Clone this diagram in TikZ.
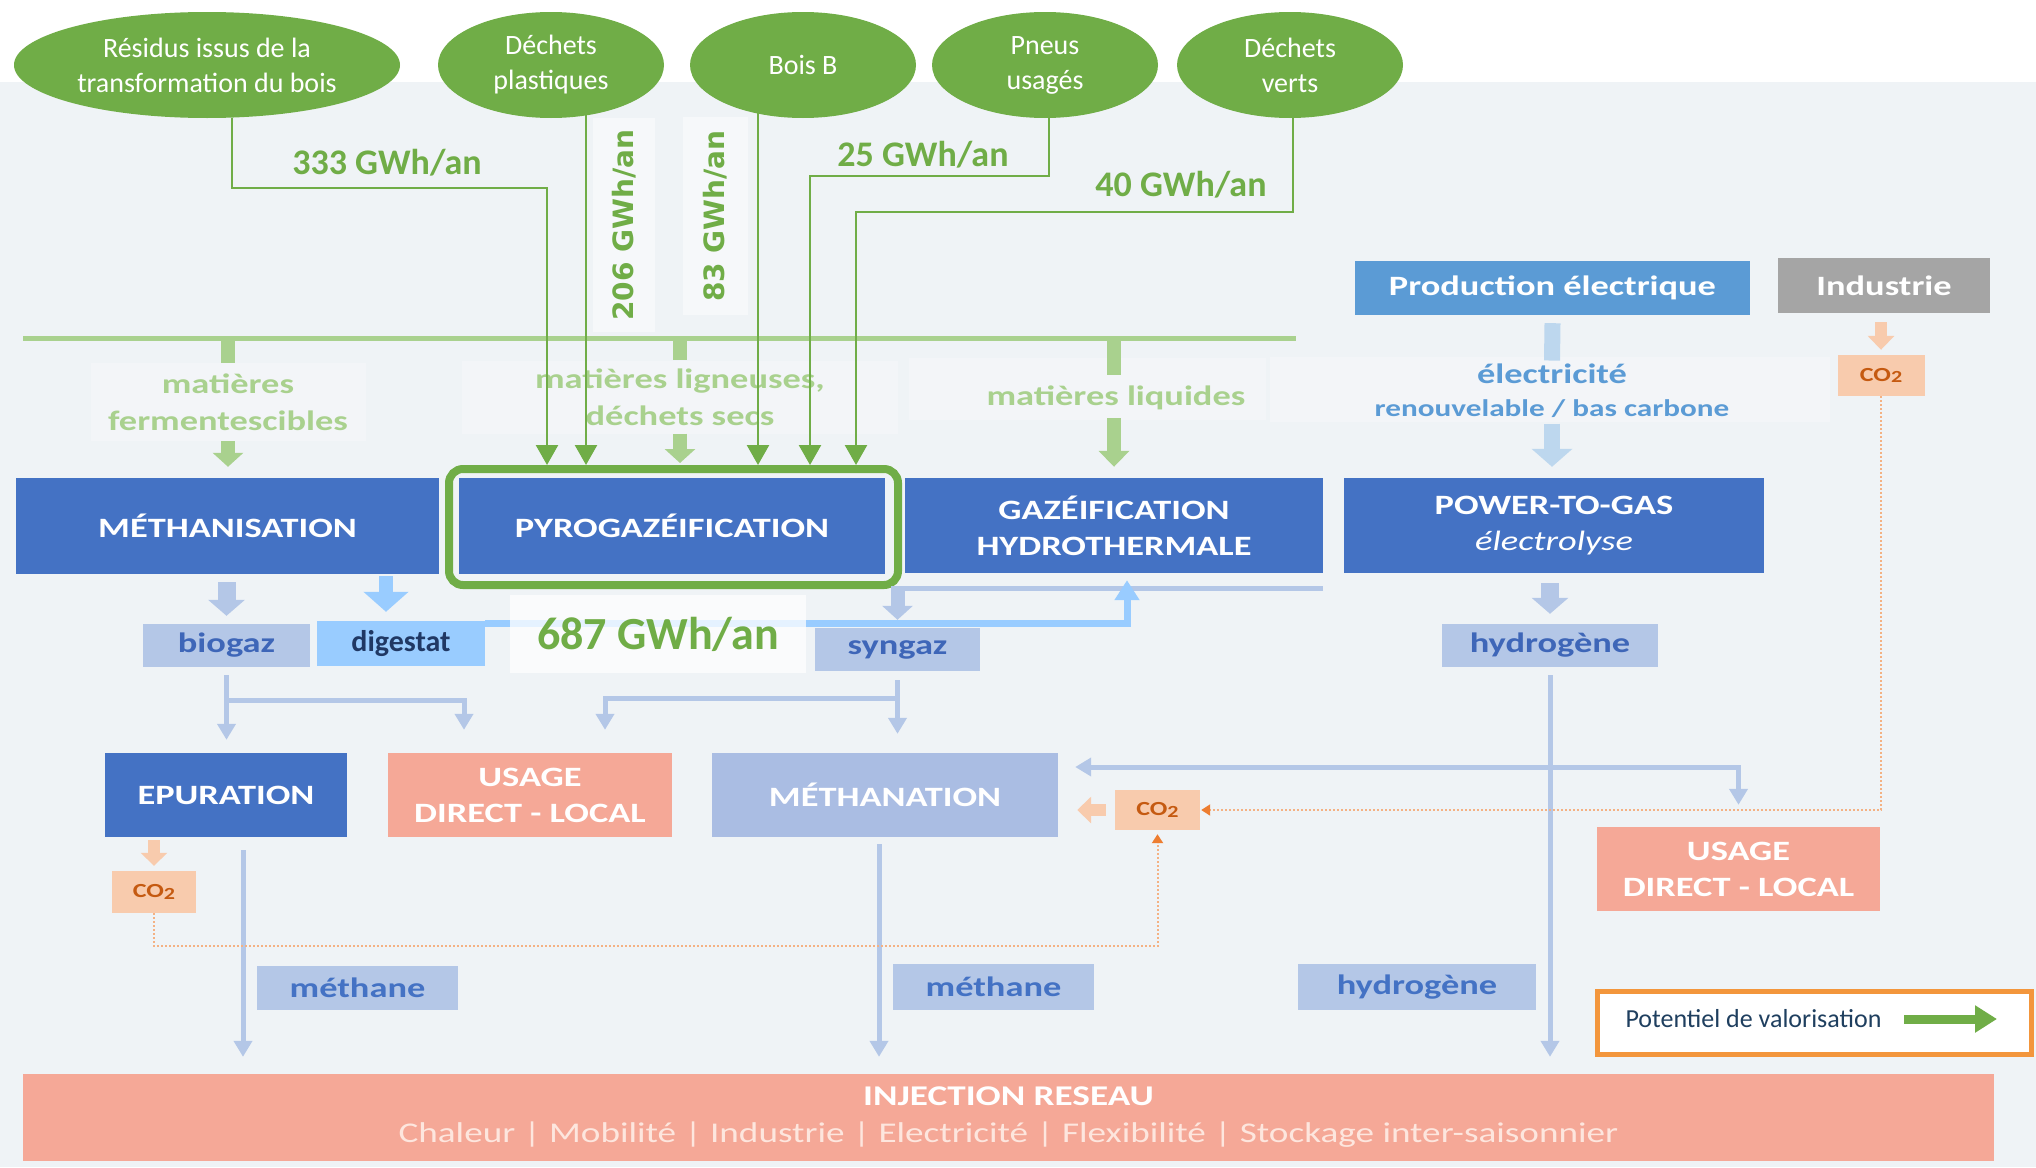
\documentclass[tikz,border=0pt]{standalone}
\usepackage{fontspec}
\setmainfont{Carlito}
\newfontfamily\wide[FakeStretch=1.3]{Carlito}
\newfontfamily\dejavu{DejaVu Sans}
\usepackage{tikz}
\usetikzlibrary{shapes.geometric, arrows.meta, positioning}
\definecolor{vert}{HTML}{70AD47}
\definecolor{vertpale}{HTML}{A9D18E}
\definecolor{bleu}{HTML}{4472C4}
\definecolor{bleuprod}{HTML}{5B9BD5}
\definecolor{bleupale}{HTML}{B4C7E7}
\definecolor{bleuciel}{HTML}{99CCFF}
\definecolor{bleuelec}{HTML}{BDD7EE}
\definecolor{bleumethan}{HTML}{AABDE3}
\definecolor{texteb}{HTML}{3E66B8}
\definecolor{marine}{HTML}{203864}
\definecolor{legtexte}{HTML}{1F3F5F}
\definecolor{saumon}{HTML}{F5A897}
\definecolor{rosepale}{HTML}{FDE6DE}
\definecolor{peche}{HTML}{F8CBAD}
\definecolor{orangefonce}{HTML}{C55A11}
\definecolor{orangevif}{HTML}{ED7D31}
\definecolor{orangeclair}{HTML}{F4B183}
\definecolor{legbord}{HTML}{F3963C}
\definecolor{fond}{HTML}{EFF3F6}
\definecolor{voile}{HTML}{F3F5F8}
\definecolor{voiletexte}{HTML}{F6F8FA}
\definecolor{gris}{HTML}{A5A5A5}
\tikzset{
    source/.style={ellipse, fill=vert, text=white, inner sep=0pt, minimum width=226pt, minimum height=106pt, align=center, font=\fontsize{28}{35}\selectfont},
    procede/.style={fill=bleu, text=white, inner sep=0pt, align=center, font=\wide\bfseries\fontsize{28}{36}\selectfont},
    produit/.style={fill=bleupale, text=texteb, inner sep=0pt, font=\wide\bfseries\fontsize{28}{34}\selectfont},
    usagebox/.style={fill=saumon, text=white, inner sep=0pt, align=center, font=\wide\bfseries\fontsize{28}{36}\selectfont},
    co2/.style={fill=peche, text=orangefonce, inner sep=0pt, font=\wide\bfseries\fontsize{20}{24}\selectfont},
    matiere/.style={text=vertpale, inner sep=0pt, align=center, font=\wide\bfseries\fontsize{28}{37}\selectfont},
    debit/.style={text=vert, font=\bfseries\fontsize{36}{40}\selectfont},
    debitv/.style={fill=voiletexte, rotate=90, inner sep=0pt, text=vert, font=\dejavu\bfseries\fontsize{28}{30}\selectfont},
    flux/.style={draw=vert, line width=2.5pt, -{Triangle[width=22pt,length=20pt]}},
    gaz/.style={draw=bleupale, line width=5pt, -{Triangle[width=18pt,length=16pt]}},
    fleche/.style n args={4}{draw=#1, line width=#2, -{Triangle[width=#3,length=#4]}},
    pointille/.style={draw=orangeclair, line width=2pt, dash pattern=on 2pt off 2pt, -{Triangle[width=11pt,length=9pt,color=orangevif]}},
}
\newcommand{\cotwo}{CO\raisebox{-1.5pt}{\fontsize{17}{17}\selectfont 2}}
\begin{document}
\begin{tikzpicture}[x=1pt, y=-1pt]
    \useasboundingbox (0,0) rectangle (2036,1167);
    \fill[white] (0,0) rectangle (2036,1167);
    \fill[fond] (0,82) rectangle (2036,1167);

    \fill[voile] (909,358) rectangle (1266,420);
    \fill[voile] (1270,357) rectangle (1830,422);

    \draw[vertpale, line width=5pt] (23,338) -- (1296,338);
    \node[matiere, fill=voile, minimum width=275pt, minimum height=78pt] (ferm) at (228,402) {matières\\fermentescibles};
    \node[matiere, fill=voile, minimum width=436pt, minimum height=73pt] (lign) at (680,397) {matières ligneuses,\\déchets secs};
    \node[matiere] (liq) at (1116,398) {matières liquides};
    \draw[vertpale, line width=14pt] (228,338) -- (ferm.north);
    \draw[vertpale, line width=14pt] (680,338) -- (lign.north);
    \draw[vertpale, line width=14pt] (1114,338) -- (1114,375);

    \node[procede, minimum width=423pt, minimum height=96pt] (meth) at (227.5,526) {MÉTHANISATION};
    \node[procede, minimum width=426pt, minimum height=96pt] (pyro) at (672,526) {PYROGAZÉIFICATION};
    \node[draw=vert, line width=8pt, rounded corners=14pt, minimum width=449pt, minimum height=116pt] (cadre) at (673.5,527) {};
    \node[procede, minimum width=418pt, minimum height=95pt] (gazeif) at (1114,525.5) {GAZÉIFICATION\\HYDROTHERMALE};
    \node[procede, minimum width=420pt, minimum height=95pt] (ptg) at (1554,525.5) {POWER-TO-GAS\\{\mdseries\itshape électrolyse}};

    \draw[fleche={vertpale}{14pt}{30pt}{14pt}, shorten >=11pt] (ferm.south) -- (ferm.south |- meth.north);
    \draw[fleche={vertpale}{14pt}{30pt}{14pt}, shorten >=2pt] (lign.south) -- (lign.south |- cadre.north);
    \draw[fleche={vertpale}{14pt}{30pt}{16pt}, shorten >=11pt] (1114,418) -- (1114,0 |- gazeif.north);

    \node[fill=bleuprod, text=white, inner sep=0pt, minimum width=395pt, minimum height=54pt, font=\wide\bfseries\fontsize{28}{34}\selectfont] (prod) at (1552.5,288) {Production électrique};
    \node[fill=gris, text=white, inner sep=0pt, minimum width=212pt, minimum height=55pt, font=\wide\bfseries\fontsize{28}{34}\selectfont] (indus) at (1884,285.5) {Industrie};
    \node[co2, minimum width=87pt, minimum height=41pt] (co2i) at (1881,375.5) {\cotwo};
    \draw[fleche={peche}{12pt}{26pt}{14pt}, shorten <=9pt, shorten >=5pt] (indus.south -| co2i.north) -- (co2i.north);

    \node[text=bleuprod, font=\wide\bfseries\fontsize{28}{34}\selectfont] (elec) at (1552,374) {électricité};
    \node[text=bleuprod, font=\wide\bfseries\fontsize{24}{28}\selectfont] (renouv) at (1552,409) {renouvelable / bas carbone};
    \draw[bleuelec, line width=16pt] ([yshift=-8pt]prod.south) -- (elec.north);
    \draw[fleche={bleuelec}{16pt}{40pt}{18pt}, shorten <=2pt, shorten >=11pt] (renouv.south) -- (renouv.south |- ptg.north);

    \node[produit, minimum width=167pt, minimum height=43pt] (biogaz) at (226.5,645.5) {biogaz};
    \node[fill=bleuciel, text=marine, inner sep=0pt, minimum width=168pt, minimum height=45pt, font=\bfseries\fontsize{30}{34}\selectfont] (digestat) at (401,643.5) {digestat};
    \node[produit, minimum width=165pt, minimum height=43pt] (syngaz) at (897.5,649.5) {syngaz};
    \node[produit, minimum width=216pt, minimum height=43pt] (hydro) at (1550,645.5) {hydrogène};

    \draw[fleche={bleupale}{18pt}{36pt}{16pt}, shorten <=8pt, shorten >=8pt] (meth.south -| biogaz.north) -- (biogaz.north);
    \coordinate (d) at ([xshift=-15pt]digestat.north);
    \draw[fleche={bleuciel}{14pt}{44pt}{20pt}, shorten <=2pt, shorten >=9pt] (d |- meth.south) -- (d);
    \coordinate (g) at ([yshift=-15pt]gazeif.south east);
    \draw[bleupale, line width=5pt] (g) -- ([xshift=-7pt]g -| syngaz.north);
    \draw[fleche={bleupale}{14pt}{30pt}{14pt}, shorten >=8pt] (g -| syngaz.north) -- (syngaz.north);
    \draw[fleche={bleupale}{18pt}{36pt}{16pt}, shorten <=10pt, shorten >=10pt] (ptg.south -| hydro.north) -- (hydro.north);

    \coordinate (dg) at ([yshift=-3pt]digestat.north east);
    \draw[bleuciel, line width=7pt, -{Triangle[width=24pt,length=20pt]}, shorten >=7pt] (dg) -| ([xshift=13pt]gazeif.south);

    \node[fill=white, fill opacity=0.75, text opacity=1, text=vert, inner sep=0pt, minimum width=296pt, minimum height=78pt, font=\bfseries\fontsize{46}{50}\selectfont] (total) at (658,634) {687 GWh/an};

    \node[procede, minimum width=242pt, minimum height=84pt] (epur) at (226,795) {EPURATION};
    \node[usagebox, minimum width=284pt, minimum height=84pt] (usage1) at (530,795) {USAGE\\DIRECT - LOCAL};
    \node[procede, fill=bleumethan, minimum width=346pt, minimum height=84pt] (methanation) at (885,795) {MÉTHANATION};
    \node[co2, minimum width=85pt, minimum height=40pt] (co2m) at (1157.5,810) {\cotwo};
    \node[usagebox, minimum width=283pt, minimum height=84pt] (usage2) at (1738.5,869) {USAGE\\DIRECT - LOCAL};
    \node[co2, minimum width=84pt, minimum height=42pt] (co2e) at (154,892) {\cotwo};

    \draw[gaz, shorten <=8pt, shorten >=13pt] (biogaz.south) -- (biogaz.south |- epur.north);
    \draw[gaz, shorten >=23pt] ([yshift=-33pt]biogaz.south) -| ([xshift=-66pt]usage1.north);
    \draw[gaz, shorten <=9pt, shorten >=19pt] (syngaz.south) -- (syngaz.south |- methanation.north);
    \draw[gaz, shorten >=23pt] ([yshift=-27pt]syngaz.south) -| ([xshift=75pt]usage1.north);

    \node[produit, text=bleu, minimum width=201pt, minimum height=44pt] (methane1) at (357.5,988) {méthane};
    \node[produit, text=bleu, minimum width=201pt, minimum height=46pt] (methane2) at (993.5,987) {méthane};
    \node[produit, text=bleu, minimum width=238pt, minimum height=46pt] (hydro2) at (1417,987) {hydrogène};
    \node[fill=saumon, text=white, inner sep=0pt, align=center, minimum width=1971pt, minimum height=87pt, font=\wide\fontsize{28.6}{37}\selectfont] (injection) at (1008.5,1117.5) {{\bfseries INJECTION RESEAU}\\\textcolor{rosepale}{Chaleur | Mobilité | Industrie | Electricité | Flexibilité | Stockage inter-saisonnier}};

    \coordinate (e) at ([xshift=17pt]epur.south);
    \draw[gaz, shorten <=13pt, shorten >=17pt] (e) -- (e |- injection.north);
    \coordinate (m) at ([xshift=-6pt]methanation.south);
    \draw[gaz, shorten <=7pt, shorten >=17pt] (m) -- (m |- injection.north);
    \draw[gaz, shorten <=8pt, shorten >=17pt] (hydro.south) -- (hydro.south |- injection.north);
    \coordinate (h) at (1737,767);
    \draw[gaz, {Triangle[width=18pt,length=16pt]}-{Triangle[width=18pt,length=16pt]}, shorten <=17pt, shorten >=22pt] (methanation.east |- h) -| (usage2.north);

    \draw[fleche={peche}{12pt}{26pt}{13pt}, shorten <=3pt, shorten >=5pt] (epur.south -| co2e.north) -- (co2e.north);
    \draw[fleche={peche}{12pt}{26pt}{14pt}, shorten <=9pt, shorten >=19pt] (co2m.west) -- (co2m.west -| methanation.east);
    \draw[pointille, shorten >=4pt] (co2e.south) -- ++(0,33) -| (co2m.south);
    \draw[pointille, shorten >=1pt] (co2i.south) |- (co2m.east);

    \node[draw=legbord, line width=5pt, fill=white, minimum width=434pt, minimum height=63pt] (legende) at (1814,1022.5) {};
    \node[text=legtexte, anchor=west, font=\fontsize{26}{30}\selectfont] (legtxt) at (1622,1019) {Potentiel de valorisation};
    \draw[fleche={vert}{9pt}{26pt}{22pt}] ([xshift=19pt]legtxt.east) -- ++(93,0);

    \node[source, minimum width=386pt] (residus) at (207,65) {Résidus issus de la\\transformation du bois};
    \node[source] (plastiques) at (551,65) {Déchets\\plastiques};
    \node[source] (boisb) at (803,65) {Bois B};
    \node[source] (pneus) at (1045,65) {Pneus\\usagés};
    \node[source] (verts) at (1290,65) {Déchets\\verts};

    \node[debitv, minimum width=214pt, minimum height=62pt] (d206) at (624,225) {206 GWh/an};
    \node[debitv, minimum width=198pt, minimum height=65pt] (d83) at (715,216) {83 GWh/an};
    \node[debit] (d333) at (387,163) {333 GWh/an};
    \node[debit] (d25) at (923,155) {25 GWh/an};
    \node[debit] (d40) at (1181,185) {40 GWh/an};

    \coordinate (in1) at (547,0);
    \coordinate (in4) at (810,0);
    \coordinate (in5) at (856,0);
    \coordinate (p) at ([xshift=35pt, yshift=3pt]plastiques.south);
    \coordinate (b) at ([xshift=-45pt, yshift=5pt]boisb.south);
    \draw[flux] ([xshift=25pt]residus.south) -- ++(0,70) -| (in1 |- cadre.north);
    \draw[flux] (p) -- (p |- cadre.north);
    \draw[flux] (b) -- (b |- cadre.north);
    \draw[flux] ([xshift=4pt]pneus.south) -- ++(0,58) -| (in4 |- cadre.north);
    \draw[flux] ([xshift=3pt]verts.south) -- ++(0,94) -| (in5 |- cadre.north);
\end{tikzpicture}
\end{document}
